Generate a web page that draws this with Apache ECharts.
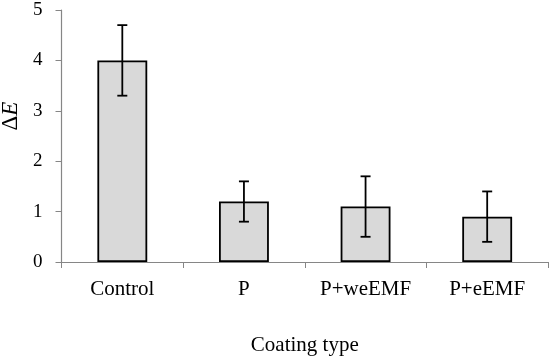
<!DOCTYPE html>
<html>
<head>
<meta charset="utf-8">
<script src="https://cdn.jsdelivr.net/npm/echarts@6/dist/echarts.min.js"></script>
<style>html,body{margin:0;padding:0;background:#fff}#c{width:550px;height:357px}</style>
</head>
<body>
<div id="c"></div>
<script>
var categories = ['Control', 'P', 'P+weEMF', 'P+eEMF'];
var values = [4.0, 1.2, 1.1, 0.9];
var errors = [0.7, 0.4, 0.6, 0.5];
var yTicks = [0, 1, 2, 3, 4, 5];

var chart = echarts.init(document.getElementById('c'), null, {renderer: 'canvas'});
var FONT = '"Liberation Serif", "Times New Roman", serif';
var errData = categories.map(function (c, i) { return [i, values[i] - errors[i], values[i] + errors[i]]; });

chart.setOption({
  animation: false,
  textStyle: {fontFamily: FONT, color: '#000'},
  grid: {left: 61.5, right: 2, top: 10, bottom: 95, containLabel: false, outerBoundsMode: 'none'},
  xAxis: {
    type: 'category',
    data: categories,
    axisLine: {lineStyle: {color: '#868686', width: 1.2}},
    axisTick: {show: true, length: 6, lineStyle: {color: '#868686'}, alignWithLabel: false},
    axisLabel: {fontFamily: FONT, fontSize: 21, color: '#000', margin: 17},
    name: 'Coating type',
    nameLocation: 'middle',
    nameGap: 73,
    nameTextStyle: {fontFamily: FONT, fontSize: 21, color: '#000'}
  },
  yAxis: {
    type: 'value',
    min: yTicks[0],
    max: yTicks[yTicks.length - 1],
    interval: 1,
    splitLine: {show: false},
    axisLine: {show: true, lineStyle: {color: '#868686', width: 1.2}},
    axisTick: {show: true, length: 6, lineStyle: {color: '#868686'}},
    axisLabel: {fontFamily: FONT, fontSize: 19, color: '#000', margin: 19}
  },
  graphic: [{
    type: 'text',
    x: 11, y: 116,
    rotation: Math.PI / 2,
    style: {
      text: '{a|Δ}{b|E}',
      align: 'center',
      verticalAlign: 'middle',
      rich: {
        a: {fontFamily: FONT, fontSize: 23, fill: '#000'},
        b: {fontFamily: FONT, fontSize: 23, fontStyle: 'italic', fill: '#000'}
      }
    }
  }],
  series: [{
    type: 'bar',
    data: values,
    barWidth: '41%',
    itemStyle: {color: '#d9d9d9', borderColor: '#000', borderWidth: 1.8}
  }, {
    type: 'custom',
    data: errData,
    z: 10,
    renderItem: function (params, api) {
      var x = api.value(0);
      var lo = api.coord([x, api.value(1)]);
      var hi = api.coord([x, api.value(2)]);
      var hw = 5;
      var st = {stroke: '#000', lineWidth: 1.8};
      return {
        type: 'group',
        children: [
          {type: 'line', shape: {x1: lo[0], y1: lo[1], x2: hi[0], y2: hi[1]}, style: st},
          {type: 'line', shape: {x1: hi[0] - hw, y1: hi[1], x2: hi[0] + hw, y2: hi[1]}, style: st},
          {type: 'line', shape: {x1: lo[0] - hw, y1: lo[1], x2: lo[0] + hw, y2: lo[1]}, style: st}
        ]
      };
    }
  }]
});
</script>
</body>
</html>
